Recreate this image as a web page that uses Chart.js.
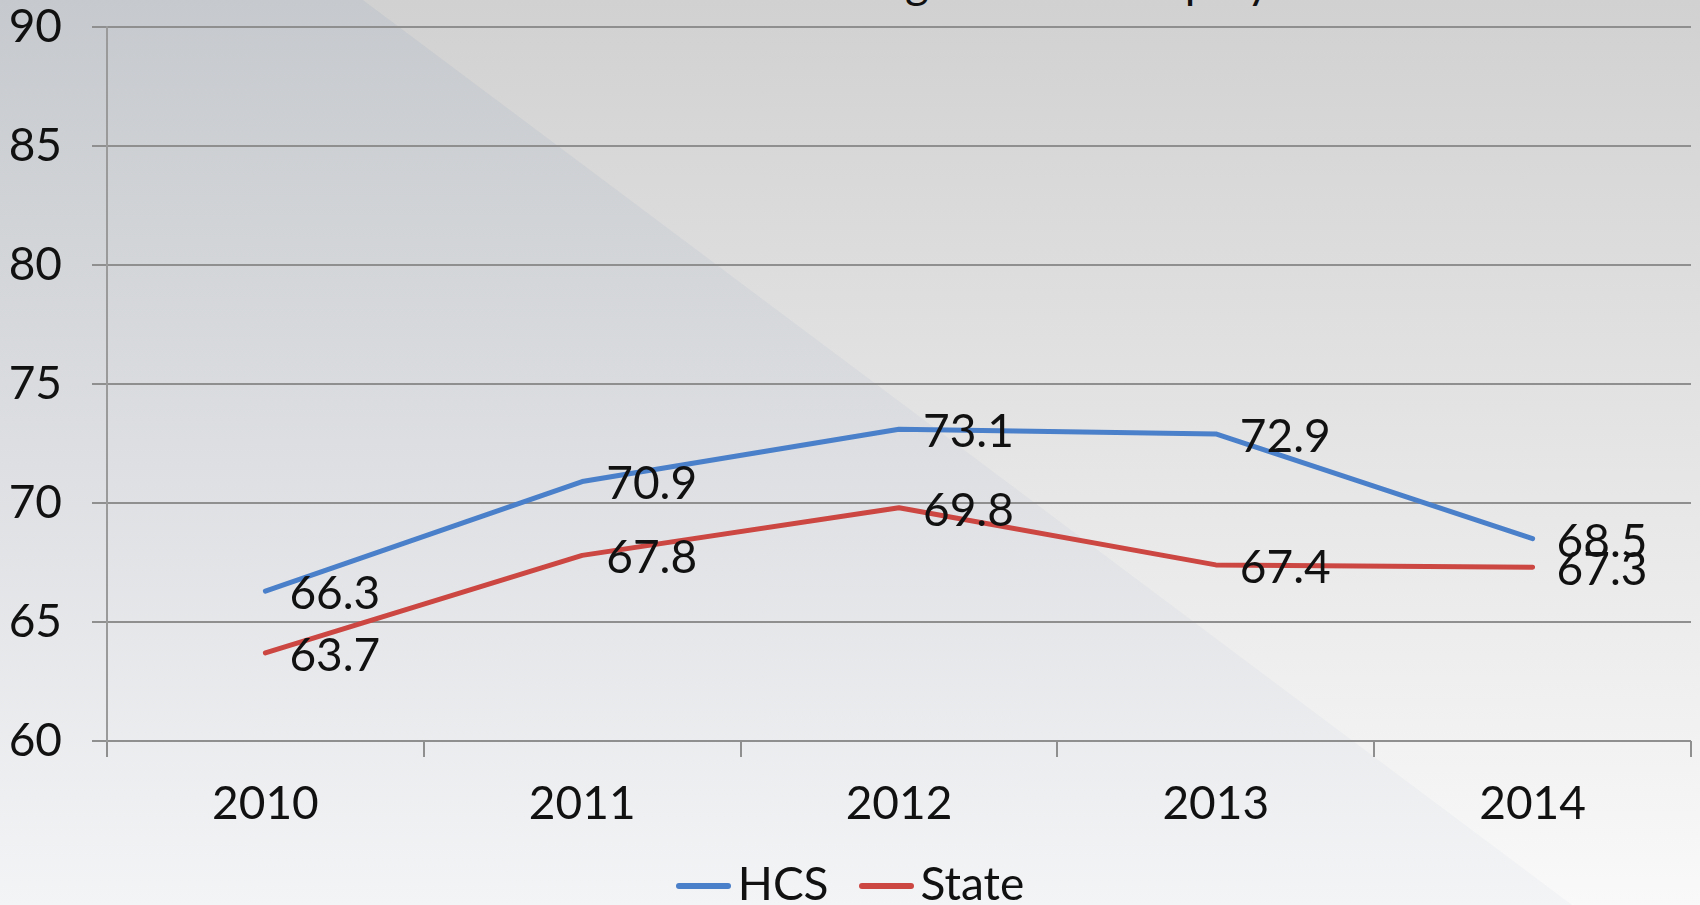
<!DOCTYPE html>
<html>
<head>
<meta charset="utf-8">
<script src="https://cdn.jsdelivr.net/npm/chart.js@4"></script>
<style>
  html, body { margin: 0; padding: 0; }
  body {
    width: 1700px; height: 905px; overflow: hidden; position: relative;
    background: linear-gradient(to bottom, #d1d1d1, #f9f9f9);
    font-family: Lato, "Open Sans", sans-serif;
  }
  /* darker bluish wedge on the left */
  #wedge {
    position: absolute; left: 0; top: 0; width: 1700px; height: 905px;
    background: linear-gradient(to bottom, #c6c9cd, #f3f4f6);
    clip-path: polygon(0 0, 363px 0, 1572px 905px, 0 905px);
  }
  #title {
    position: absolute; top: -47px; left: 728px; white-space: nowrap;
    font-size: 46px; color: #111;
  }
  #chartBox { position: absolute; left: 0; top: 0; width: 1700px; height: 905px; }
  #legend {
    position: absolute; left: 0; width: 1700px; top: 856px; text-align: center;
    font-size: 46px; color: #111; line-height: 54px;
  }
  #legend .item { display: inline-block; margin: 0 15px; }
  #legend .swatch {
    display: inline-block; width: 55px; height: 6px; border-radius: 3px;
    vertical-align: middle; margin-right: 7px; position: relative; top: -2px;
  }
</style>
</head>
<body>
<div id="wedge"></div>
<div id="title">Percentage of Men Employed</div>
<div id="chartBox"><canvas id="chart"></canvas></div>
<div id="legend"></div>
<script>
// Datos del gráfico
const years = ['2010', '2011', '2012', '2013', '2014'];
const hcsValues = [66.3, 70.9, 73.1, 72.9, 68.5];
const stateValues = [63.7, 67.8, 69.8, 67.4, 67.3];
const seriesNames = ['HCS', 'State'];
const seriesColors = ['#4a7fc9', '#cc4642'];

const FONT = 'Lato, "Open Sans", sans-serif';

// Etiquetas de valor a la derecha de cada punto
const valueLabels = {
  id: 'valueLabels',
  afterDatasetsDraw(chart) {
    const ctx = chart.ctx;
    ctx.save();
    ctx.font = '46px ' + FONT;
    ctx.fillStyle = '#111';
    ctx.textAlign = 'left';
    ctx.textBaseline = 'middle';
    chart.data.datasets.forEach((ds, i) => {
      chart.getDatasetMeta(i).data.forEach((pt, j) => {
        ctx.fillText(ds.data[j].toFixed(1), pt.x + 24, pt.y + 3);
      });
    });
    ctx.restore();
  }
};

const ctx = document.getElementById('chart').getContext('2d');
const chart = new Chart(ctx, {
  type: 'line',
  data: {
    labels: years,
    datasets: [
      { label: seriesNames[0], data: hcsValues, borderColor: seriesColors[0], backgroundColor: seriesColors[0] },
      { label: seriesNames[1], data: stateValues, borderColor: seriesColors[1], backgroundColor: seriesColors[1] }
    ]
  },
  options: {
    responsive: true,
    maintainAspectRatio: false,
    animation: false,
    layout: { padding: { top: 0, right: 9, bottom: 0, left: 0 } },
    elements: {
      line: { borderWidth: 5, tension: 0, borderCapStyle: 'round', borderJoinStyle: 'round' },
      point: { radius: 0, hoverRadius: 0 }
    },
    plugins: {
      legend: { display: false },
      tooltip: { enabled: false }
    },
    scales: {
      x: {
        offset: true,
        grid: { offset: true, drawOnChartArea: false, drawTicks: true, tickLength: 16, color: '#8f8f8f', lineWidth: 2 },
        border: { display: false },
        ticks: { font: { family: FONT, size: 46 }, color: '#111', padding: 20 },
        afterFit(scale) { scale.height = 164; }
      },
      y: {
        min: 60,
        max: 90,
        ticks: { stepSize: 5, font: { family: FONT, size: 46 }, color: '#111', padding: 30 },
        grid: { color: '#8f8f8f', lineWidth: 2, tickLength: 15 },
        border: { color: '#9a9a9a', width: 2 },
        afterFit(scale) {
          scale.width = 107;
          scale.paddingTop = 27;
          scale.paddingBottom = 0;
        }
      }
    }
  },
  plugins: [valueLabels]
});

// Leyenda en HTML
const legend = document.getElementById('legend');
chart.data.datasets.forEach((ds) => {
  const item = document.createElement('span');
  item.className = 'item';
  const sw = document.createElement('span');
  sw.className = 'swatch';
  sw.style.background = ds.borderColor;
  item.appendChild(sw);
  item.appendChild(document.createTextNode(ds.label));
  legend.appendChild(item);
});
</script>
</body>
</html>
